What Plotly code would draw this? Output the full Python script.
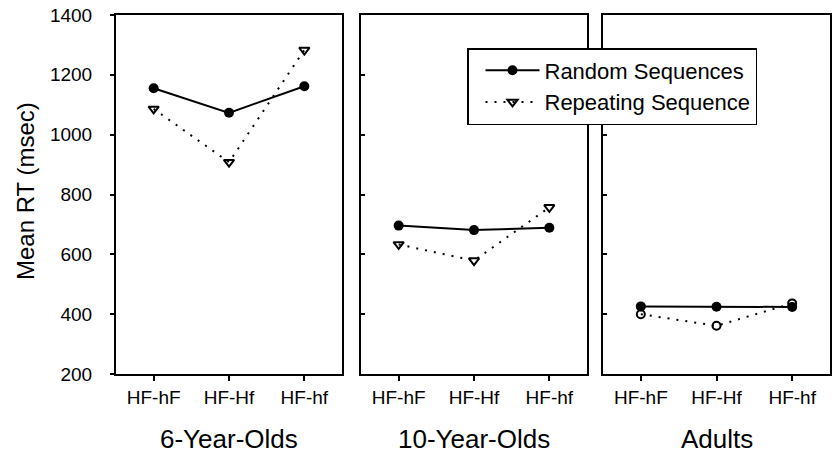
import plotly.graph_objects as go

categories = ["HF-hF", "HF-Hf", "HF-hf"]
groups = ["6-Year-Olds", "10-Year-Olds", "Adults"]
random_6 = [1155, 1073, 1162]
repeat_6 = [1086, 908, 1283]
random_10 = [696, 681, 689]
repeat_10 = [633, 579, 757]
random_adult = [426, 425, 424]
repeat_adult = [400, 361, 436]
y_ticks = [200, 400, 600, 800, 1000, 1200, 1400]
series_names = ["Random Sequences", "Repeating Sequence"]

W, H = 836, 456
FONT = "Liberation Sans, Arial, Helvetica, sans-serif"
x_dom = [(116 / W, 342 / W), (361 / W, 587 / W), (603 / W, 830 / W)]
y_dom = (1 - 374 / H, 1 - 15 / H)

random_all = [random_6, random_10, random_adult]
repeat_all = [repeat_6, repeat_10, repeat_adult]
rep_symbols = ["triangle-down-open", "triangle-down-open", "circle-open"]
rep_sizes = [9, 9, 8]

fig = go.Figure()
for i in range(3):
    xa = "x" if i == 0 else f"x{i+1}"
    ya = "y" if i == 0 else f"y{i+1}"
    fig.add_trace(go.Scatter(
        x=categories, y=random_all[i], xaxis=xa, yaxis=ya,
        mode="lines+markers", name=series_names[0], showlegend=(i == 0),
        line=dict(color="black", width=2),
        marker=dict(symbol="circle", size=10, color="black"),
    ))
    fig.add_trace(go.Scatter(
        x=categories, y=repeat_all[i], xaxis=xa, yaxis=ya,
        mode="lines+markers", name=series_names[1], showlegend=(i == 0),
        line=dict(color="black", width=2, dash="2px,7px"),
        marker=dict(symbol=rep_symbols[i], size=rep_sizes[i], color="black",
                    line=dict(width=2, color="black")),
    ))

layout = dict(
    template="none",
    width=W, height=H,
    margin=dict(l=0, r=0, t=0, b=0, pad=0, autoexpand=False),
    paper_bgcolor="white", plot_bgcolor="white",
    font=dict(family=FONT, color="black", size=19),
    showlegend=True,
    legend=dict(
        x=467 / W, y=1 - 48 / H, xanchor="left", yanchor="top",
        bordercolor="black", borderwidth=1.5, bgcolor="white",
        font=dict(size=22, family=FONT), itemwidth=54,
        indentation=12, tracegroupgap=0,
    ),
)
for i in range(3):
    key = "" if i == 0 else str(i + 1)
    layout["xaxis" + key] = dict(
        domain=list(x_dom[i]), anchor="y" + key, type="category",
        range=[-0.5, 2.5], showline=True, linecolor="black", linewidth=2,
        mirror=True, ticks="outside", ticklen=5, tickwidth=2, tickcolor="black",
        showgrid=False, zeroline=False, tickfont=dict(size=19),
        automargin=False, fixedrange=True,
    )
    layout["yaxis" + key] = dict(
        domain=list(y_dom), anchor="x" + key, range=[200, 1400],
        tickvals=y_ticks, showline=True, linecolor="black", linewidth=2,
        mirror=True, ticks="outside" if i == 0 else "inside",
        ticklen=4, tickwidth=2, tickcolor="black",
        showticklabels=(i == 0), showgrid=False, zeroline=False,
        tickfont=dict(size=19), ticklabelstandoff=14,
        automargin=False, fixedrange=True,
    )
    # inner half of the crossing x ticks
    layout["xaxis" + str(i + 4)] = dict(
        overlaying="x" + key, anchor="y" + key, side="bottom",
        range=[-0.5, 2.5], tickvals=[0, 1, 2], ticks="inside", ticklen=5,
        tickwidth=2, tickcolor="black", showticklabels=False,
        showline=False, showgrid=False, zeroline=False,
        automargin=False, fixedrange=True,
    )
# inner half of the crossing y ticks of the first panel
layout["yaxis4"] = dict(
    overlaying="y", anchor="x", side="left", range=[200, 1400],
    tickvals=y_ticks, ticks="inside", ticklen=5, tickwidth=2,
    tickcolor="black", showticklabels=False, showline=False,
    showgrid=False, zeroline=False, automargin=False, fixedrange=True,
)

annotations = []
for i in range(3):
    annotations.append(dict(
        text=groups[i], xref="paper", yref="paper",
        x=(x_dom[i][0] + x_dom[i][1]) / 2, y=1 - 439 / H,
        xanchor="center", yanchor="middle", showarrow=False,
        font=dict(size=26, family=FONT),
    ))
annotations.append(dict(
    text="Mean RT (msec)", xref="paper", yref="paper",
    x=25 / W, y=1 - 191 / H, textangle=-90,
    xanchor="center", yanchor="middle", showarrow=False,
    font=dict(size=24, family=FONT),
))
layout["annotations"] = annotations

fig.update_layout(**layout)
fig.write_html(
    "out.html",
    config={"displayModeBar": False},
    post_script="document.body.style.margin='0';document.body.style.overflow='hidden';",
)
